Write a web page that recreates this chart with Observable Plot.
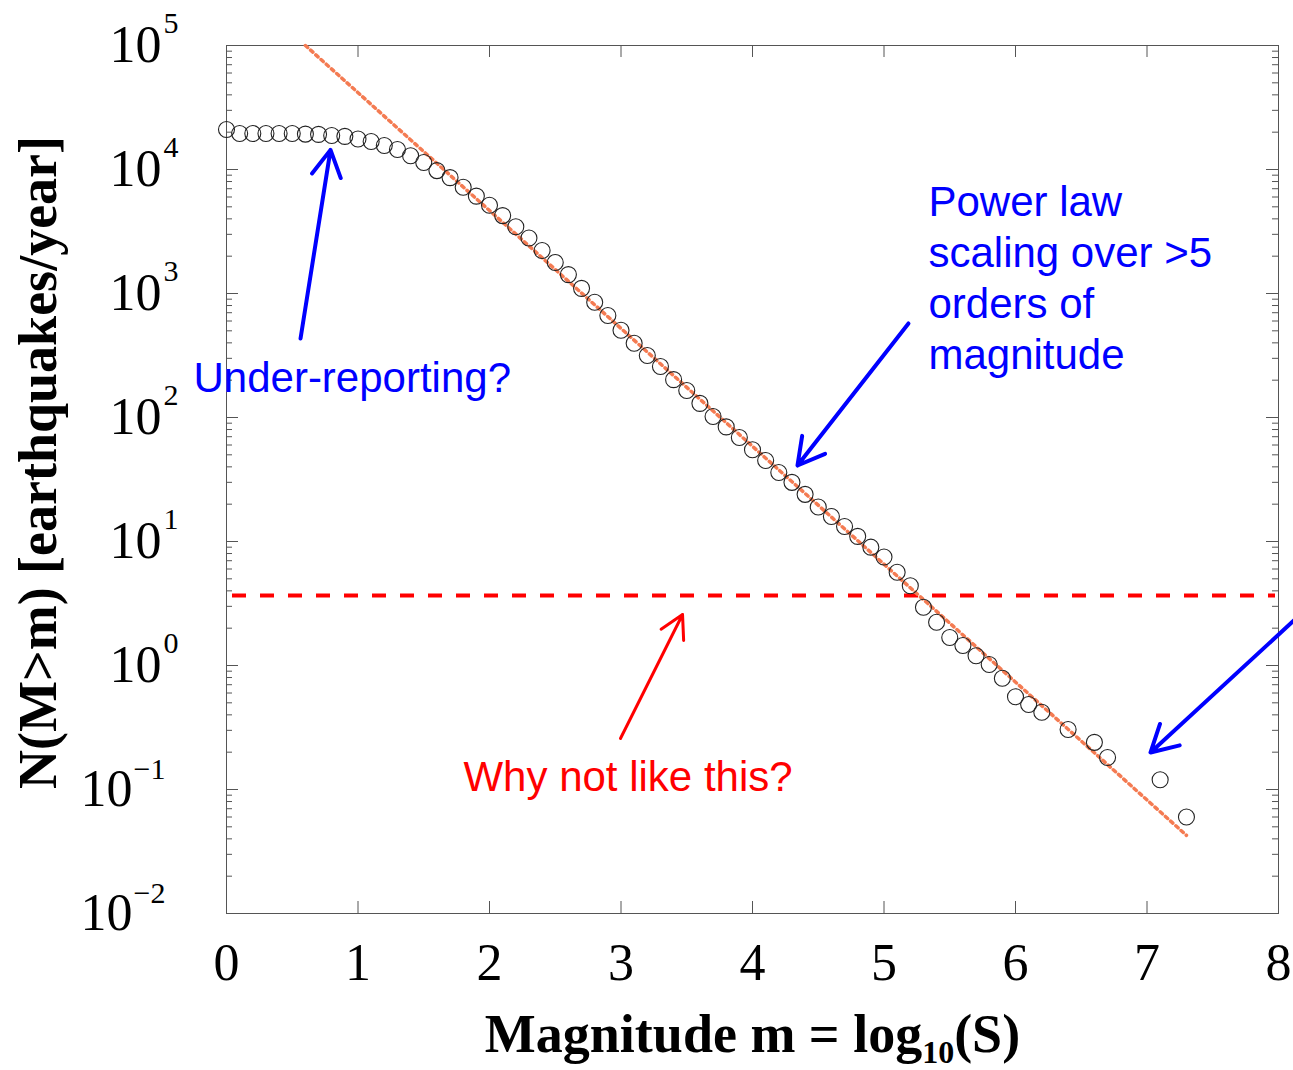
<!DOCTYPE html>
<html><head><meta charset="utf-8">
<script src="https://cdn.jsdelivr.net/npm/d3@7"></script>
<script src="https://cdn.jsdelivr.net/npm/@observablehq/plot@0.6"></script>
<style>body{margin:0;background:#fff;overflow:hidden}</style>
</head><body><div id="chart"></div>
<script>
// Observed cumulative earthquake rate N(M>m)
const magnitude = [0,0.1,0.2,0.3,0.4,0.5,0.6,0.7,0.8,0.9,1.0,1.1,1.2,1.3,1.4,1.5,1.6,1.7,1.8,1.9,
  2.0,2.1,2.2,2.3,2.4,2.5,2.6,2.7,2.8,2.9,3.0,3.1,3.2,3.3,3.4,3.5,3.6,3.7,3.8,3.9,
  4.0,4.1,4.2,4.3,4.4,4.5,4.6,4.7,4.8,4.9,5.0,5.1,5.2,5.3,5.4,5.5,5.6,5.7,5.8,5.9,
  6.0,6.1,6.2,6.4,6.6,6.7,7.1,7.3];
const rate = [21000,19500,19500,19500,19500,19500,19300,19200,18800,18500,17600,16800,15600,14500,12900,11400,9800,8600,7200,6100,
  5150,4250,3450,2800,2220,1780,1420,1100,850,665,505,397,316,258,202,165,130,102,84,69,
  55,45,36,30,24,19,15.9,13.2,11.0,9.0,7.5,5.65,4.4,2.95,2.23,1.68,1.45,1.2,1.02,0.79,
  0.56,0.485,0.42,0.305,0.24,0.181,0.12,0.06];

// Power-law fit endpoints
const fitMagnitude = [0.6, 7.3];
const fitRate = [100000, 0.0427];

// Hypothetical constant rate ("Why not like this?")
const constantRate = [3.67];

// Axis ticks
const xTicks = [0,1,2,3,4,5,6,7,8];
const yExponents = [-2,-1,0,1,2,3,4,5];

// Labels
const xLabel = "Magnitude m = log10(S)";
const yLabel = "N(M>m) [earthquakes/year]";

// Annotations
const noteText = ["Under-reporting?", "Power law\nscaling over >5\norders of\nmagnitude", "Why not like this?"];
const noteX = [-0.251, 5.338, 1.802];
const noteY = [316, 8300, 0.191];
const noteColor = ["#0000ff", "#0000ff", "#ff0000"];

const blueArrowX1 = [0.563, 5.186, 8.17];
const blueArrowY1 = [434, 573, 2.6];
const blueArrowX2 = [0.791, 4.342, 7.027];
const blueArrowY2 = [14400, 41, 0.199];
const redArrowX1 = [2.996];
const redArrowY1 = [0.258];
const redArrowX2 = [3.468];
const redArrowY2 = [2.58];

// ---- build tables ----
const points = magnitude.map((m, i) => ({m, n: rate[i]}));
const fit = fitMagnitude.map((m, i) => ({m, n: fitRate[i]}));
const notes = noteText.map((t, i) => ({t, x: noteX[i], y: noteY[i], c: noteColor[i]}));
const blueArrows = blueArrowX1.map((x1, i) => ({x1, y1: blueArrowY1[i], x2: blueArrowX2[i], y2: blueArrowY2[i]}));
const redArrows = redArrowX1.map((x1, i) => ({x1, y1: redArrowY1[i], x2: redArrowX2[i], y2: redArrowY2[i]}));
const yMajor = yExponents.map(e => 10 ** e);
const yPos = yExponents.filter(e => e >= 0);
const yNeg = yExponents.filter(e => e < 0);
const yMinor = d3.scaleLog().domain([0.01, 1e5]).ticks()
  .filter(t => Math.abs(Math.log10(t) - Math.round(Math.log10(t))) > 1e-6);

const frameW = 1293 - 226 - 15;
const frameH = 1070 - 45 - 157;
const tickCol = "#555";
const serif = "Liberation Serif, Times New Roman, serif";
const sans = "Liberation Sans, Arial, sans-serif";
const expLabel = e => (e < 0 ? "\u2212" + (-e) : String(e));

const svg = Plot.plot({
  width: 1293,
  height: 1070,
  marginLeft: 226,
  marginRight: 15,
  marginTop: 45,
  marginBottom: 157,
  x: {domain: [0, 8], axis: null},
  y: {type: "log", domain: [0.01, 1e5], axis: null},
  style: {background: "white"},
  marks: [
    Plot.frame({stroke: tickCol, strokeWidth: 1}),
    // x ticks (bottom + top, inward)
    Plot.ruleX(xTicks, {x: d => d, insetTop: frameH - 12, stroke: tickCol}),
    Plot.ruleX(xTicks, {x: d => d, insetBottom: frameH - 12, stroke: tickCol}),
    // y major ticks (left + right)
    Plot.ruleY(yMajor, {y: d => d, insetRight: frameW - 12, stroke: tickCol}),
    Plot.ruleY(yMajor, {y: d => d, insetLeft: frameW - 12, stroke: tickCol}),
    // y minor ticks
    Plot.ruleY(yMinor, {y: d => d, insetRight: frameW - 6, stroke: tickCol}),
    Plot.ruleY(yMinor, {y: d => d, insetLeft: frameW - 6, stroke: tickCol}),
    // x tick labels
    Plot.text(xTicks, {x: d => d, text: d => String(d), frameAnchor: "bottom", dy: 50,
      lineAnchor: "middle", textAnchor: "middle", fontSize: 52, fontFamily: serif, fill: "black"}),
    // y tick labels: base and exponent
    Plot.text(yPos, {y: e => 10 ** e, text: () => "10", frameAnchor: "left", dx: -65,
      textAnchor: "end", lineAnchor: "middle", fontSize: 52, fontFamily: serif, fill: "black"}),
    Plot.text(yPos, {y: e => 10 ** e, text: expLabel, frameAnchor: "left", dx: -63, dy: -22,
      textAnchor: "start", lineAnchor: "middle", fontSize: 30, fontFamily: serif, fill: "black"}),
    Plot.text(yNeg, {y: e => 10 ** e, text: () => "10", frameAnchor: "left", dx: -94,
      textAnchor: "end", lineAnchor: "middle", fontSize: 52, fontFamily: serif, fill: "black"}),
    Plot.text(yNeg, {y: e => 10 ** e, text: expLabel, frameAnchor: "left", dx: -93, dy: -20,
      textAnchor: "start", lineAnchor: "middle", fontSize: 30, fontFamily: serif, fill: "black"}),
    // axis titles
    Plot.text([yLabel], {text: d => d, frameAnchor: "left", dx: -188, dy: -17, rotate: -90,
      textAnchor: "middle", lineAnchor: "middle", fontSize: 54, fontWeight: "bold", fontFamily: serif, fill: "black"}),
    Plot.text([xLabel], {text: d => d, frameAnchor: "bottom", dy: 138,
      textAnchor: "middle", lineAnchor: "bottom", fontSize: 54, fontWeight: "bold", fontFamily: serif, fill: "black"}),
    // constant rate reference
    Plot.ruleY(constantRate, {y: d => d, stroke: "#ff0000", strokeWidth: 4, strokeDasharray: "14,14",
      insetLeft: 6, insetRight: 3}),
    // power-law fit
    Plot.line(fit, {x: "m", y: "n", stroke: "#f47b52", strokeWidth: 3.5, strokeDasharray: "3,4"}),
    // data points
    Plot.dot(points, {x: "m", y: "n", r: 8, stroke: "#222", strokeWidth: 1.1, fill: "none"}),
    // arrows
    Plot.arrow(blueArrows, {x1: "x1", y1: "y1", x2: "x2", y2: "y2", stroke: "#0000ff",
      strokeWidth: 4, headLength: 11.25, headAngle: 58}),
    Plot.arrow(redArrows, {x1: "x1", y1: "y1", x2: "x2", y2: "y2", stroke: "#ff0000",
      strokeWidth: 3, headLength: 13, headAngle: 58}),
    // annotation text
    Plot.text(notes, {x: "x", y: "y", text: "t", fill: "c", textAnchor: "start", lineAnchor: "top",
      lineHeight: 1.214, fontSize: 42, fontFamily: sans})
  ]
});

// subscript in the x-axis title
const NS = "http://www.w3.org/2000/svg";
for (const t of svg.querySelectorAll("text")) {
  if (t.textContent === xLabel) {
    t.textContent = "";
    const a = document.createElementNS(NS, "tspan"); a.textContent = "Magnitude m = log";
    const b = document.createElementNS(NS, "tspan"); b.textContent = "10";
    b.setAttribute("font-size", "32"); b.setAttribute("dy", "11");
    const c = document.createElementNS(NS, "tspan"); c.textContent = "(S)";
    c.setAttribute("dy", "-11");
    t.append(a, b, c);
  }
}
document.getElementById("chart").append(svg);
</script></body></html>
